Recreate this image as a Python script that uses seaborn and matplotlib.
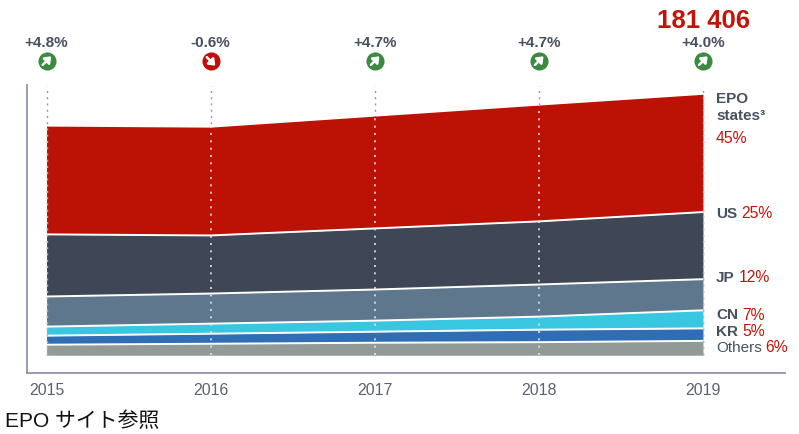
import numpy as np
import pandas as pd

import matplotlib
matplotlib.use('Agg')
import matplotlib.pyplot as plt
import seaborn as sns

sns.set_theme(style='white')
plt.rcParams['font.family'] = ['Liberation Sans', 'Noto Sans CJK JP', 'DejaVu Sans']

years = [2015, 2016, 2017, 2018, 2019]
growth = ['+4.8%', '-0.6%', '+4.7%', '+4.7%', '+4.0%']
total_label = '181 406'
footer = 'EPO サイト参照'

# stacked bottom to top
others = [7340, 8000, 8700, 9100, 10000]
kr = [6300, 7000, 7700, 8700, 8700]
cn = [6300, 7000, 7700, 9100, 12600]
jp = [21000, 21000, 21700, 22400, 21700]
us = [43300, 40500, 42600, 44000, 46800]
epo = [75500, 75500, 78300, 81100, 82106]

series_names = ['Others', 'KR', 'CN', 'JP', 'US', 'EPO']
colors = ['#929A97', '#2F6DB5', '#39C6E0', '#5E778C', '#3F4656', '#BC1105']

RED = '#C4140A'
SLATE = '#47505F'
GREEN = '#3A8A3F'

W, H = 799, 434
fig = plt.figure(figsize=(W / 100, H / 100), dpi=100)
ax = fig.add_axes([27 / W, 1 - 373 / H, (785 - 27) / W, (373 - 85) / H])


def px(x, y):
    return x / W, 1 - y / H


df = pd.DataFrame(dict(zip(series_names, [others, kr, cn, jp, us, epo])), index=years)
tops = df.cumsum(axis=1)
bottoms = tops.shift(1, axis=1).fillna(0)

ax.set_xlim(2014.881, 2019.5)
ax.set_ylim(-12400, 188380)

# grey dotted guides sit behind the areas
ax.vlines(years, 0, 187800, color='#9a9a9a', lw=1, linestyles=(0, (1.5, 3)), zorder=1)

for name, c in zip(series_names, colors):
    ax.fill_between(years, bottoms[name], tops[name], color=c, lw=0, zorder=2)

long_df = tops.drop(columns='EPO').reset_index(names='year').melt('year', var_name='layer', value_name='top')
sns.lineplot(data=long_df, x='year', y='top', units='layer', estimator=None,
             color='white', lw=1.4, ax=ax, zorder=3, legend=False)

ax.vlines(years[1:-1], 0, df.sum(axis=1).values[1:-1], color='#e4e4e4', lw=1.2,
          linestyles=(0, (1.2, 3.2)), zorder=4)
ax.vlines([years[0], years[-1]], 0, df.sum(axis=1).values[[0, -1]], color='#b5b5b5', lw=1,
          linestyles=(0, (1.5, 3)), zorder=4)

ax.set_xticks(years)
ax.set_xticklabels(years, fontsize=11.4, color='#5A6270')
ax.set_yticks([])
ax.set_xlabel('')
ax.set_ylabel('')
ax.tick_params(axis='x', length=0, pad=7)
sns.despine(ax=ax)
for s in ['left', 'bottom']:
    ax.spines[s].set_color('#8F95A8')
    ax.spines[s].set_linewidth(1.3)

# growth labels and arrow badges
for yr, g in zip(years, growth):
    up = g.startswith('+')
    x_fig = ax.transData.transform((yr, 0))[0]
    fig.text(x_fig / W, 1 - 43 / H, g, ha='center', va='center', fontsize=11,
             fontweight='bold', color=SLATE)
    badge = fig.add_axes([x_fig / W - 8.5 / W, 1 - 69.5 / H, 17 / W, 17 / H])
    badge.set_xlim(-1, 1)
    badge.set_ylim(-1, 1)
    badge.axis('off')
    badge.scatter([0], [0], s=170, color=GREEN if up else '#C00F0B', lw=0, clip_on=False)
    start, end = ((-0.45, -0.45), (0.55, 0.55)) if up else ((-0.45, 0.45), (0.55, -0.55))
    badge.annotate('', xy=end, xytext=start,
                   arrowprops=dict(arrowstyle='-|>,head_width=0.22,head_length=0.28',
                                   color='white', lw=1.8, shrinkA=0, shrinkB=0))

fig.text(*px(703.5, 21), total_label, ha='center', va='center', fontsize=18.5,
         fontweight='bold', color=RED)

# series labels on the right
fig.text(*px(716, 99), 'EPO', va='center', fontsize=11, fontweight='bold', color=SLATE)
fig.text(*px(716, 116), 'states³', va='center', fontsize=11, fontweight='bold', color=SLATE)
fig.text(*px(716, 138), '45%', va='center', fontsize=11.3, color=RED)

right_labels = [('US', '25%', 214, 741), ('JP', '12%', 278, 739),
                ('CN', '7%', 315, 742), ('KR', '5%', 332, 742)]
for name, pct, y, xp in right_labels:
    fig.text(*px(716, y), name, va='center', fontsize=11, fontweight='bold', color=SLATE)
    fig.text(*px(xp, y), pct, va='center', fontsize=11.3, color=RED)
fig.text(*px(716, 348), 'Others', va='center', fontsize=11, color=SLATE)
fig.text(*px(765, 348), '6%', va='center', fontsize=11.3, color=RED)

fig.text(*px(5, 421), footer, va='center', fontsize=15, color='#111111')

fig.savefig('out.png', dpi=100)
